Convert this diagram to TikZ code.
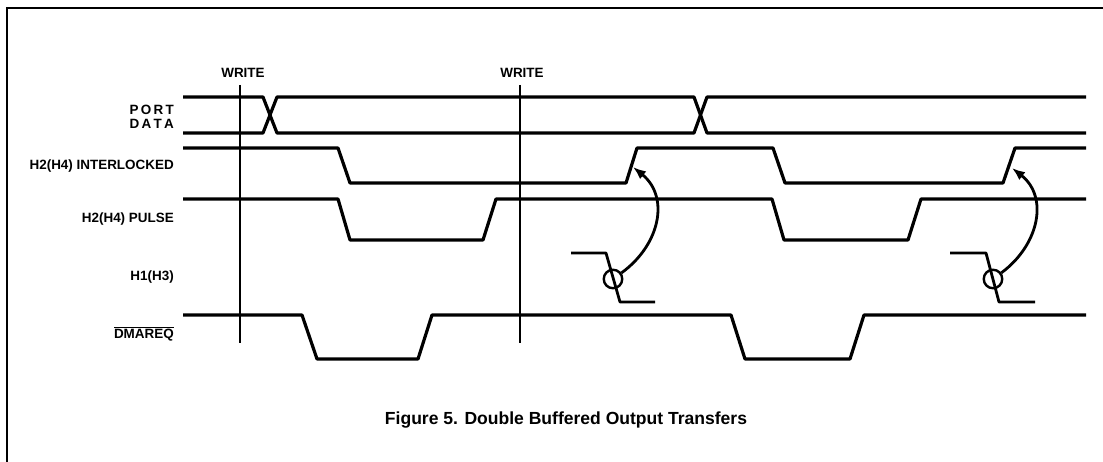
\documentclass[tikz,border=0pt]{standalone}
\usepackage{fontspec}
\setmainfont{Liberation Sans}
\usetikzlibrary{arrows.meta}
\begin{document}
\begin{tikzpicture}[x=1bp,y=-1bp,
  sig/.style={line width=3.2bp, line join=round},
  writeline/.style={line width=1.8bp},
  frameline/.style={line width=2.8bp},
  hsig/.style={line width=2.8bp, line join=round},
  lab/.style={anchor=east, inner sep=0pt, font=\fontsize{13.5}{14}\selectfont\bfseries, align=right},
  wlab/.style={inner sep=0pt, font=\fontsize{13.5}{14}\selectfont\bfseries},
  ring/.style={circle, draw, line width=2.4bp, minimum size=18.5bp, inner sep=0pt},
  arr/.style={line width=2.8bp, -{Latex[length=13bp,width=10bp]}},
  captext/.style={inner sep=0pt, font=\fontsize{17.6}{20}\selectfont\bfseries}]
\useasboundingbox (0,0) rectangle (1103,462);
% frame
\draw[frameline] (1103,8) -- (7,8) -- (7,462);
% labels
\node[lab] (port) at (174,116.5) {P\,O\,R\,T\\D\,A\,T\,A};
\node[lab] (inter) at (174,166) {H2(H4) INTERLOCKED};
\node[lab] (pulse) at (174,219) {H2(H4) PULSE};
\node[lab] (h1) at (174,277) {H1(H3)};
\node[lab] (dma) at (174,334) {$\overline{\hbox{DMAREQ}}$};
\node[wlab] (w1) at (243,73) {WRITE};
\node[wlab] (w2) at (522,73) {WRITE};
% write lines
\draw[writeline] (240,85) -- (240,343);
\draw[writeline] (520,85) -- (520,343);
% port data
\draw[sig] (183,97) -- (263,97) -- (277,133) -- (694,133) -- (707,97) -- (1086,97);
\draw[sig] (183,133) -- (263,133) -- (277,97) -- (694,97) -- (707,133) -- (1086,133);
% interlocked
\draw[sig] (183,148) -- (338,148) -- (350,183) -- (626,183) -- (637,148) -- (773,148) -- (785,183) -- (1003,183) -- (1015,148) -- (1086,148);
% pulse
\draw[sig] (183,199) -- (338,199) -- (350,240) -- (483,240) -- (496,199) -- (772,199) -- (784,240) -- (908,240) -- (921,199) -- (1086,199);
% H1
\draw[hsig] (571,253) -- (606,253) -- (620,302) -- (655,302);
\draw[hsig] (950,253) -- (986,253) -- (999,302) -- (1035,302);
\node[ring] (c1) at (613,279) {};
\node[ring] (c2) at (993,279) {};
\coordinate (t1) at (633,167);
\coordinate (t2) at (1012,168);
\draw[arr] (c1) .. controls (660,245) and (670,197) .. (t1);
\draw[arr] (c2) .. controls (1039,245) and (1049,197) .. (t2);
% dmareq
\draw[sig] (183,315) -- (302,315) -- (317,359) -- (418,359) -- (432,315) -- (731,315) -- (745,359) -- (850,359) -- (864,315) -- (1086,315);
% caption
\node[captext] (caption) at (566,420) {Figure 5. Double Buffered Output Transfers};
\end{tikzpicture}
\end{document}
